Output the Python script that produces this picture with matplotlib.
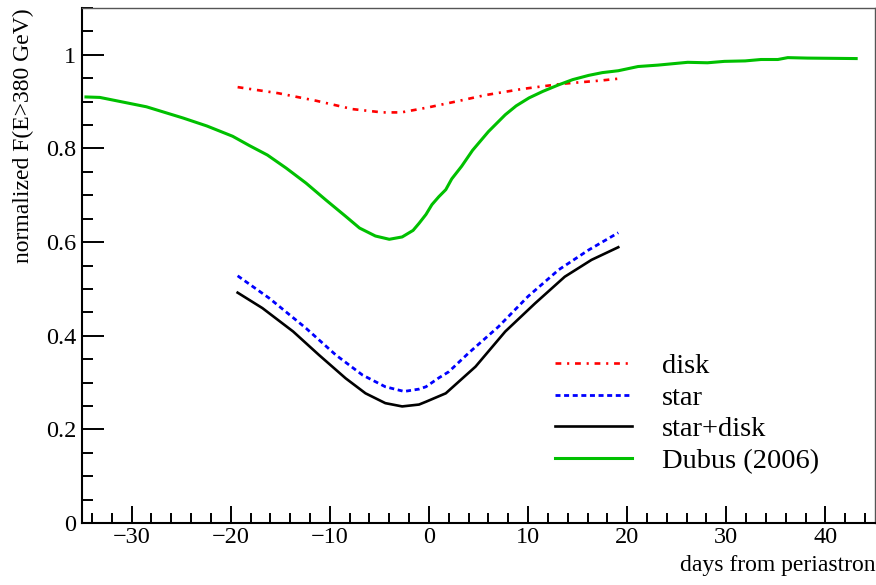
import matplotlib
matplotlib.use("Agg")
import matplotlib.pyplot as plt
from matplotlib.ticker import MultipleLocator

plt.rcParams['font.family'] = ['Liberation Serif', 'DejaVu Serif']
plt.rcParams['axes.unicode_minus'] = True

# disk component
disk_x = [-19.3, -15.2, -11.4, -7.7, -4.7, -2.8, -1.0, 0.0, 2.0, 2.9, 5.7, 9.4, 13.4, 17.3, 19.1]
disk_y = [0.931, 0.918, 0.902, 0.884, 0.877, 0.877, 0.884, 0.888, 0.897, 0.901, 0.914, 0.927, 0.938, 0.945, 0.949]

# star component
star_x = [-19.3, -16.1, -12.4, -9.4, -6.7, -4.4, -2.5, -1.0, -0.3, 1.0, 2.0, 4.0, 7.0, 10.0, 13.1, 16.1, 19.1]
star_y = [0.528, 0.480, 0.416, 0.359, 0.316, 0.291, 0.281, 0.286, 0.291, 0.310, 0.323, 0.363, 0.419, 0.484, 0.541, 0.583, 0.620]

# star + disk
sd_x = [-19.3, -16.8, -13.7, -11.1, -8.4, -6.4, -4.4, -2.7, -1.0, -0.3, 1.7, 4.7, 7.7, 10.7, 13.7, 16.4, 19.1]
sd_y = [0.492, 0.459, 0.409, 0.359, 0.309, 0.277, 0.256, 0.249, 0.253, 0.259, 0.277, 0.334, 0.409, 0.469, 0.526, 0.562, 0.589]

# Dubus (2006)
dub_x = [-34.6, -33.2, -28.5, -24.8, -22.4, -19.8, -18.1, -16.3, -14.4, -12.4, -10.4, -8.4, -7.0,
         -5.4, -4.0, -2.7, -1.6, -1.0, -0.3, 0.3, 1.0, 1.7, 2.3, 3.3, 4.4, 6.0, 7.7, 8.8, 10.1, 11.5,
         13.1, 14.5, 16.1, 17.5, 19.1, 21.1, 23.1, 26.1, 28.1, 29.8, 31.9, 33.5, 35.2, 36.2, 38.2, 43.1]
dub_y = [0.910, 0.909, 0.889, 0.865, 0.848, 0.826, 0.806, 0.786, 0.758, 0.726, 0.690, 0.655, 0.630,
         0.613, 0.606, 0.611, 0.625, 0.640, 0.659, 0.680, 0.697, 0.712, 0.735, 0.762, 0.796, 0.836,
         0.872, 0.891, 0.908, 0.922, 0.936, 0.947, 0.956, 0.962, 0.966, 0.975, 0.978, 0.984, 0.983,
         0.986, 0.987, 0.990, 0.990, 0.994, 0.993, 0.992]

fig = plt.figure(figsize=(8.76, 5.85), dpi=100)
ax = fig.add_axes([82 / 876, 62 / 585, 793 / 876, 515 / 585])

ax.plot(disk_x, disk_y, color='red', lw=1.9, dashes=(2.2, 2.2, 0.8, 2.2), label='disk')
ax.plot(star_x, star_y, color='blue', lw=2.0, dashes=(1.8, 1.3), label='star')
ax.plot(sd_x, sd_y, color='black', lw=1.9, label='star+disk')
ax.plot(dub_x, dub_y, color='#00c000', lw=2.2, label='Dubus (2006)')

ax.set_xlim(-35, 45)
ax.set_ylim(0, 1.1)
ax.xaxis.set_major_locator(MultipleLocator(10))
ax.xaxis.set_minor_locator(MultipleLocator(2))
ax.yaxis.set_minor_locator(MultipleLocator(0.05))
ax.set_yticks([0, 0.2, 0.4, 0.6, 0.8, 1.0])
ax.set_yticklabels(['0', '0.2', '0.4', '0.6', '0.8', '1'])

ax.tick_params(axis='both', which='both', direction='in', top=False, right=False,
               labelsize=17.5, width=1.4)
ax.tick_params(axis='y', which='major', length=16, pad=4)
ax.tick_params(axis='y', which='minor', length=8)
ax.tick_params(axis='x', which='major', length=12, pad=3)
ax.tick_params(axis='x', which='minor', length=7)

for s in ['left', 'bottom']:
    ax.spines[s].set_linewidth(1.5)
for s in ['top', 'right']:
    ax.spines[s].set_color('#555555')
    ax.spines[s].set_linewidth(1.0)

ax.set_xlabel('days from periastron', fontsize=17, ha='right')
ax.xaxis.set_label_coords(1.0, -0.062)
ax.set_ylabel('normalized F(E>380 GeV)', fontsize=17, ha='right')
ax.yaxis.set_label_coords(-0.06, 1.0)

ax.legend(loc='upper left', bbox_to_anchor=(0.5965, 0.33), frameon=False, fontsize=20.5,
          handlelength=2.7, handletextpad=1.05, labelspacing=0.2, borderpad=0,
          borderaxespad=0)

fig.savefig('out.png', dpi=100)
